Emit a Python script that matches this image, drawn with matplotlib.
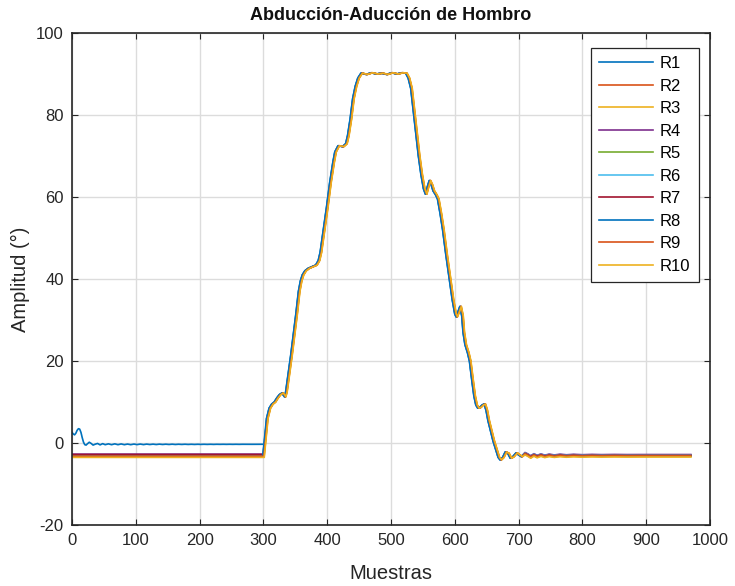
import numpy as np
import matplotlib
matplotlib.use("Agg")
import matplotlib.pyplot as plt

plt.rcParams['font.family'] = ['Liberation Sans', 'DejaVu Sans']
plt.rcParams['axes.unicode_minus'] = False

# Run labels and MATLAB default colour order
runs = ['R1', 'R2', 'R3', 'R4', 'R5', 'R6', 'R7', 'R8', 'R9', 'R10']
colors = ['#0072BD', '#D95319', '#EDB120', '#7E2F8E', '#77AC30',
          '#4DBEEE', '#A2142F', '#0072BD', '#D95319', '#EDB120']

# Resting level before the movement for each run (degrees)
rest_level = [-0.3, -3.1, -3.4, -2.7, -3.0, -3.2, -2.8, -3.3, -3.2, -3.5]
# Resting level after the movement for each run (degrees)
end_level = [-2.9, -3.0, -3.3, -2.8, -3.1, -2.9, -3.0, -3.2, -3.1, -3.4]
# Small timing lag of each run (samples)
lag = [-1.0, 0.5, 1.0, -0.5, 0.0, -0.8, 0.3, -1.2, 0.8, 1.3]

# Settling oscillation of R1 at the start of the recording
r1_start_s = [0, 2, 4, 6, 8, 10, 12, 14, 16, 18, 20, 22, 24, 27, 30, 33, 36,
              40, 44, 48, 52, 57, 62, 67, 72, 77, 82, 87, 92, 97, 102, 107,
              112, 117, 122, 127, 132, 137, 142, 147, 152, 157, 162, 167,
              172, 177, 182, 187, 192, 197, 202, 207, 212, 217, 222, 227,
              232, 237, 242, 247, 252, 257, 262, 267, 272, 277, 282, 287,
              292, 297, 302]
r1_start_v = [2.6, 2.2, 2.0, 2.4, 3.1, 3.5, 3.4, 2.6, 1.3, 0.2, -0.4, -0.5,
              -0.2, 0.2, -0.1, -0.5, -0.3, -0.1, -0.45, -0.15, -0.4, -0.2,
              -0.4, -0.2, -0.4, -0.22, -0.4, -0.25, -0.4, -0.25, -0.38,
              -0.25, -0.38, -0.26, -0.36, -0.27, -0.36, -0.27, -0.35, -0.28,
              -0.35, -0.28, -0.35, -0.29, -0.34, -0.29, -0.34, -0.3, -0.34,
              -0.3, -0.33, -0.3, -0.33, -0.3, -0.33, -0.3, -0.32, -0.3,
              -0.32, -0.3, -0.32, -0.3, -0.32, -0.3, -0.31, -0.3, -0.31,
              -0.3, -0.31, -0.3, -0.3]

# Shared abduction-adduction profile (sample, degrees)
move_s = [306, 310, 314, 318, 322, 326, 330, 334, 336, 340, 344, 348, 352,
          356, 359, 362, 366, 371, 377, 383, 387, 390, 395, 400, 405, 410,
          413, 418, 425, 430, 433, 437, 441, 445, 449, 454, 462, 470, 478,
          486, 494, 502, 510, 518, 524, 528, 532, 536, 540, 544, 548, 552,
          555, 558, 561, 564, 567, 571, 574, 578, 582, 587, 592, 597, 601,
          603, 606, 609, 612, 614, 617, 621, 624, 628, 631, 634, 637, 640,
          644, 647, 650, 653, 657, 661, 665, 669, 672, 676, 680, 684, 688,
          692, 697, 701, 705]
move_v = [6.0, 8.5, 9.5, 10.0, 11.0, 11.8, 12.2, 11.3, 12.5, 17.0, 21.5,
          26.5, 31.5, 37.0, 39.5, 41.0, 42.0, 42.6, 43.0, 43.4, 44.5, 46.5,
          52.0, 57.5, 63.5, 68.5, 71.0, 72.5, 72.3, 73.0, 75.0, 79.0, 84.0,
          87.0, 89.0, 90.2, 89.9, 90.3, 90.0, 90.2, 89.9, 90.3, 90.0, 90.3,
          90.2, 89.0, 86.5, 81.0, 75.5, 70.0, 65.5, 62.0, 60.7, 62.5, 64.0,
          63.0, 61.5, 60.5, 59.5, 56.0, 52.0, 46.0, 40.5, 35.0, 31.5, 30.8,
          32.0, 33.3, 31.0, 27.0, 24.0, 22.0, 20.0, 15.0, 11.5, 9.3, 8.5,
          8.7, 9.3, 9.5, 8.0, 5.5, 3.0, 0.5, -1.5, -3.5, -4.1, -3.5, -2.2,
          -2.5, -3.7, -3.3, -2.4, -2.9, -3.3]

# Settling after the movement, relative to the resting level
tail_s = [710, 714, 719, 724, 729, 735, 741, 748, 756, 765, 775, 786, 800,
          815, 830, 850, 870, 890, 910, 930, 950, 970]
tail_d = [0.5, 0.2, -0.3, 0.2, -0.2, 0.15, -0.15, 0.1, -0.1, 0.08, -0.06,
          0.05, -0.04, 0.03, -0.02, 0.02, -0.01, 0.0, 0.0, 0.0, 0.0, 0.0]

fig = plt.figure(figsize=(7.35, 5.86), dpi=100)
ax = fig.add_axes([0.098, 0.104, 0.868, 0.8397])

for i, name in enumerate(runs):
    if i == 0:
        pre_s = list(r1_start_s)
        pre_v = list(r1_start_v)
    else:
        pre_s = [0, 300 + lag[i]]
        pre_v = [rest_level[i], rest_level[i]]
    ms = [s + lag[i] for s in move_s]
    ts = list(tail_s)
    tv = [end_level[i] + d for d in tail_d]
    xs = pre_s + ms + ts
    ys = pre_v + list(move_v) + tv
    ax.plot(xs, ys, color=colors[i], lw=1.2, label=name)

ax.set_xlim(0, 1000)
ax.set_ylim(-20, 100)
ax.set_xticks(np.arange(0, 1001, 100))
ax.set_yticks(np.arange(-20, 101, 20))
ax.grid(True, color='#dcdcdc', lw=1.0)
ax.set_axisbelow(True)
for sp in ax.spines.values():
    sp.set_color('#262626')
    sp.set_linewidth(1.2)
ax.tick_params(direction='in', length=4, width=0.8, colors='#262626',
               top=True, right=True, labelsize=12, labelcolor='#262626',
               pad=6)

ax.set_title('Abducción-Aducción de Hombro', fontsize=13, fontweight='bold',
             pad=9, color='#111111')
ax.set_xlabel('Muestras', fontsize=14.5, color='#262626', labelpad=11)
ax.set_ylabel('Amplitud (°)', fontsize=14.5, color='#262626', labelpad=4)

leg = ax.legend(loc='upper right', bbox_to_anchor=(0.982, 0.97),
                fontsize=12, frameon=True, fancybox=False, handlelength=3.2,
                labelspacing=0.45, borderpad=0.5, handletextpad=0.42,
                borderaxespad=0)
leg.get_frame().set_edgecolor('#262626')
leg.get_frame().set_linewidth(0.9)
leg.get_frame().set_alpha(1)

fig.savefig('out.png', dpi=100)
